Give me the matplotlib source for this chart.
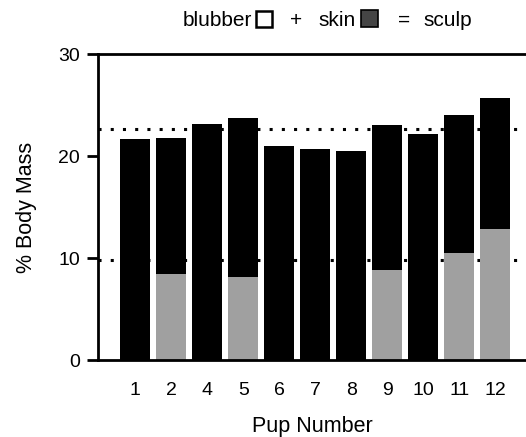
import matplotlib
matplotlib.use("Agg")
import matplotlib.pyplot as plt
from matplotlib.patches import Rectangle

plt.rcParams['font.family'] = ['Liberation Sans', 'DejaVu Sans']

# values (% body mass)
pups = ['1', '2', '4', '5', '6', '7', '8', '9', '10', '11', '12']
sculp = [21.7, 21.8, 23.1, 23.7, 21.0, 20.7, 20.5, 23.0, 22.2, 24.0, 25.7]
skin = [0, 8.4, 0, 8.1, 0, 0, 0, 8.8, 0, 10.5, 12.8]
ref_lines = [22.6, 9.8]

fig = plt.figure(figsize=(5.26, 4.37), dpi=100)
ax = fig.add_axes([0.1863, 0.1762, 0.8137, 0.7002])

x = list(range(len(pups)))
upper = [s - k for s, k in zip(sculp, skin)]

for y in ref_lines:
    ax.axhline(y, color='black', linestyle=(0, (1, 3)), linewidth=2.2, zorder=1)

ax.bar(x, skin, width=0.83, color='#a0a0a0', zorder=2)
ax.bar(x, upper, bottom=skin, width=0.83, color='black', zorder=2)

ax.set_xlim(-1.03, 10.85)
ax.set_ylim(0, 30)
ax.set_yticks([0, 10, 20, 30])
ax.set_xticks(x)
ax.set_xticklabels(pups)
ax.tick_params(axis='x', length=0, pad=16, labelsize=14)
ax.tick_params(axis='y', direction='out', length=8, width=2, pad=5, labelsize=14)

ax.spines['right'].set_visible(False)
for s in ['left', 'top', 'bottom']:
    ax.spines[s].set_linewidth(2)

ax.set_ylabel('% Body Mass', fontsize=15.5, labelpad=15)
ax.set_xlabel('Pup Number', fontsize=15.5, labelpad=12)

# legend line at the top
fs = 15
base = 1 - 26 / 437
fig.text(183 / 526, base, 'blubber', fontsize=fs, va='baseline')
fig.patches.append(Rectangle((256 / 526, 1 - 27 / 437), 16 / 526, 16 / 437,
                             transform=fig.transFigure, facecolor='white',
                             edgecolor='black', linewidth=1.8))
fig.text(290 / 526, base, '+', fontsize=fs, va='baseline')
fig.text(318 / 526, base, 'skin', fontsize=fs, va='baseline')
fig.patches.append(Rectangle((361 / 526, 1 - 27 / 437), 17 / 526, 17 / 437,
                             transform=fig.transFigure, facecolor='#454545',
                             edgecolor='black', linewidth=1.2))
fig.text(398 / 526, base, '=', fontsize=fs, va='baseline')
fig.text(423 / 526, base, 'sculp', fontsize=fs, va='baseline')

fig.savefig('out.png', dpi=100)
